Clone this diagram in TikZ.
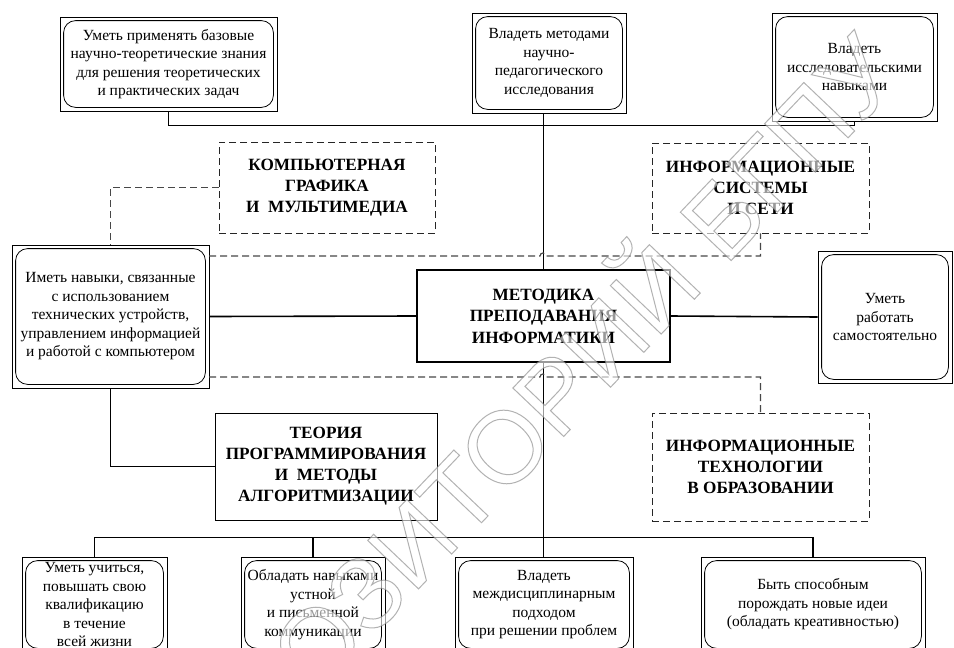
\documentclass[tikz,border=0pt]{standalone}
\usepackage{fontspec}
\setmainfont{Liberation Serif}
\newfontfamily\wmfont{Liberation Sans}
\tikzset{
  conn/.style={line width=1.6pt},
  dconn/.style={line width=1.15pt, draw=black!72, dash pattern=on 7pt off 4pt},
  outerbox/.style={draw, line width=0.8pt, align=center, inner sep=0pt,
    font=\fontsize{15.5}{18.5}\selectfont},
  innerr/.style={line width=0.8pt, rounded corners=12pt},
  dashbox/.style={draw=black!85, line width=0.9pt, dash pattern=on 7pt off 4pt, align=center,
    inner sep=0pt, font=\bfseries\fontsize{17.2}{21}\selectfont},
  subjbox/.style={draw, line width=0.9pt, align=center, inner sep=0pt,
    font=\bfseries\fontsize{17.2}{21}\selectfont},
  mainbox/.style={draw, line width=1.5pt, align=center, inner sep=0pt,
    font=\bfseries\fontsize{17.2}{21.5}\selectfont},
  wmark/.style={opacity=0.6, text=white, rotate=46.4, inner sep=0pt,
    font=\wmfont\fontsize{102}{102}\selectfont}
}
\newcommand\dblbox[6]{%
  \node[outerbox, minimum width=#4pt, minimum height=#5pt] (#1) at (#2,#3) {#6};
  \draw[innerr] ([shift={(4pt,-4pt)}]#1.north west) rectangle ([shift={(-4pt,4pt)}]#1.south east);}
\begin{document}
\begin{tikzpicture}[x=1pt,y=-1pt]
\useasboundingbox (0,0) rectangle (954,648);
\clip (0,0) rectangle (954,648);
\fill[white] (0,0) rectangle (954,648);

% top boxes
\dblbox{T1}{168.5}{64}{217}{94}{Уметь применять базовые\\научно-теоретические знания\\для решения теоретических\\и практических задач}
\dblbox{T2}{549}{63}{154}{100}{Владеть методами\\научно-\\педагогического\\исследования}
\dblbox{T3}{854.5}{67}{165}{108}{Владеть\\исследовательскими\\навыками}

% subject boxes
\node[dashbox, minimum width=216pt, minimum height=91pt] (K) at (327,187.5) {КОМПЬЮТЕРНАЯ\\ГРАФИКА\\И~~МУЛЬТИМЕДИА};
\node[dashbox, minimum width=217pt, minimum height=90pt] (IS) at (760.5,188) {ИНФОРМАЦИОННЫЕ\\СИСТЕМЫ\\И СЕТИ};
\node[subjbox, minimum width=222pt, minimum height=107pt] (TP) at (326,466.5) {ТЕОРИЯ\\ПРОГРАММИРОВАНИЯ\\И~~МЕТОДЫ\\АЛГОРИТМИЗАЦИИ};
\node[dashbox, minimum width=217pt, minimum height=108pt] (IT) at (760.5,467) {ИНФОРМАЦИОННЫЕ\\ТЕХНОЛОГИИ\\В ОБРАЗОВАНИИ};

% middle row
\dblbox{L}{110.5}{316.5}{197}{143}{Иметь навыки, связанные\\с использованием\\технических устройств,\\управлением информацией\\и работой с компьютером}
\node[mainbox, minimum width=253pt, minimum height=92pt] (C) at (543.5,316) {МЕТОДИКА\\ПРЕПОДАВАНИЯ\\ИНФОРМАТИКИ};
\dblbox{R}{885}{317}{134}{132}{Уметь\\работать\\самостоятельно}

% bottom boxes
\dblbox{B1}{94.5}{604.5}{145}{95}{Уметь учиться,\\повышать свою\\квалификацию\\в течение\\всей жизни}
\dblbox{B2}{313}{604.5}{144}{95}{Обладать навыками\\устной\\и письменной\\коммуникации}
\dblbox{B3}{544}{604.5}{178}{95}{Владеть\\междисциплинарным\\подходом\\при решении проблем}
\dblbox{B4}{813}{604.5}{224}{95}{Быть способным\\порождать новые идеи\\(обладать креативностью)}

% solid connectors
\draw[conn] (T1.south) -- ++(0,14) -| (T3.south);
\draw[conn] (C.north |- T2.south) -- (C.north);
\draw[conn] (L.east) -- (C.west);
\draw[conn] (C.east) -- (R.west);
\draw[conn] (L.south) |- (TP.west);
\draw[conn] (C.south) -- (C.south |- B3.north);
\draw[conn] (B1.north) -- ++(0,-19) -| (B4.north);
\draw[conn] (B2.north) -- ++(0,-19);

% dashed connectors
\coordinate (dA) at (209,256);
\coordinate (dB) at (209,377);
\draw[dconn] (K.west) -| (L.north);
\draw[dconn] (dA) -- (540,256) .. controls (540,252) and (546,252) .. (546,256) -- (IS.south |- dA) -- (IS.south);
\draw[dconn] (dB) -- (540,377) .. controls (540,373) and (546,373) .. (546,377) -- (IT.north |- dB) -- (IT.north);

% watermark (outlined letters)
\node[wmark] (wm) at (505,432) {\special{pdf:literal direct 2 Tr 1.0 w 0.5 G 1 g}РЕПОЗИТОРИЙ БГПУ\special{pdf:literal direct 0 Tr}};
\end{tikzpicture}
\end{document}
